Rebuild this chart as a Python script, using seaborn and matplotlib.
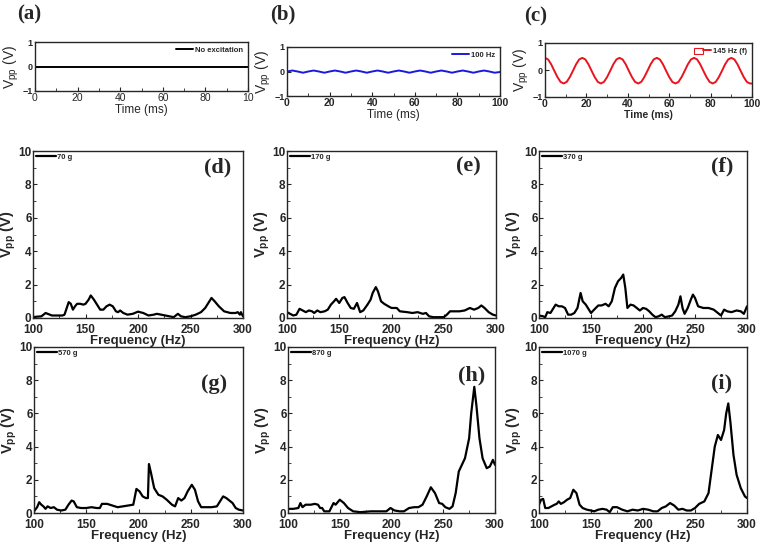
import numpy as np
import pandas as pd
import matplotlib
matplotlib.use('Agg')
import matplotlib.pyplot as plt
import seaborn as sns
from matplotlib.patches import Rectangle
from matplotlib.lines import Line2D
from matplotlib.legend_handler import HandlerTuple

# ---------------- dados ----------------
# (a) sem excitacao
t_a = [0, 25, 50, 75, 100]
v_a = [0, 0, 0, 0, 0]

# (b) 100 Hz
t_b = [0, 2.5, 5, 7.5, 10, 12.5, 15, 17.5, 20, 22.5, 25, 27.5, 30, 32.5, 35, 37.5, 40,
       42.5, 45, 47.5, 50, 52.5, 55, 57.5, 60, 62.5, 65, 67.5, 70, 72.5, 75, 77.5, 80,
       82.5, 85, 87.5, 90, 92.5, 95, 97.5, 100]
v_b = [0.0, 0.04, 0.0, -0.05, 0.0, 0.04, 0.0, -0.05, 0.0, 0.04, 0.0, -0.05, 0.0, 0.04,
       0.0, -0.05, 0.0, 0.04, 0.0, -0.05, 0.0, 0.04, 0.0, -0.05, 0.0, 0.04, 0.0, -0.05,
       0.0, 0.04, 0.0, -0.05, 0.0, 0.04, 0.0, -0.05, 0.0, 0.04, 0.0, -0.05, -0.02]

# (c) 145 Hz (f)
t_c = [i * 1.5 for i in range(67)] + [100]
v_c = [0.45, 0.39, 0.21, -0.03, -0.26, -0.44, -0.50, -0.44, -0.26, -0.03, 0.21, 0.39,
       0.45, 0.39, 0.21, -0.03, -0.26, -0.44, -0.50, -0.44, -0.26, -0.03, 0.21, 0.39,
       0.45, 0.39, 0.21, -0.03, -0.26, -0.44, -0.50, -0.44, -0.26, -0.03, 0.21, 0.39,
       0.45, 0.39, 0.21, -0.03, -0.26, -0.44, -0.50, -0.44, -0.26, -0.03, 0.21, 0.39,
       0.45, 0.39, 0.21, -0.03, -0.26, -0.44, -0.50, -0.44, -0.26, -0.03, 0.21, 0.39,
       0.45, 0.39, 0.21, -0.03, -0.26, -0.44, -0.50, -0.50]

# espectros (Frequencia, Vpp)
f_d = [100, 104, 108, 112, 118, 128, 130, 134, 136, 138, 140, 142, 145, 148, 150, 153,
       155, 158, 161, 164, 167, 170, 173, 176, 179, 181, 183, 186, 190, 195, 200, 205,
       210, 215, 218, 222, 226, 230, 234, 238, 241, 245, 250, 255, 260, 264, 267, 270,
       273, 277, 282, 288, 293, 295, 297, 298, 300]
v_d = [0.05, 0.08, 0.1, 0.3, 0.15, 0.15, 0.2, 0.95, 0.85, 0.5, 0.7, 0.85, 0.85, 0.8,
       0.85, 1.1, 1.35, 1.1, 0.8, 0.5, 0.5, 0.7, 0.8, 0.7, 0.4, 0.35, 0.45, 0.3, 0.2, 0.25,
       0.38, 0.3, 0.15, 0.2, 0.25, 0.2, 0.15, 0.1, 0.05, 0.25, 0.1, 0.05, 0.1, 0.2, 0.35,
       0.6, 0.9, 1.2, 1.0, 0.7, 0.4, 0.3, 0.3, 0.35, 0.2, 0.35, 0.1]

f_e = [100, 103, 106, 109, 112, 115, 118, 121, 124, 126, 129, 132, 136, 139, 142, 145,
       147, 150, 153, 155, 158, 161, 164, 167, 170, 173, 177, 180, 182, 185, 187, 190,
       193, 197, 200, 205, 208, 215, 220, 225, 230, 233, 236, 240, 245, 250, 253, 256,
       265, 270, 275, 279, 283, 286, 289, 293, 297, 300]
v_e = [0.35, 0.25, 0.15, 0.2, 0.55, 0.45, 0.35, 0.45, 0.4, 0.3, 0.45, 0.35, 0.4, 0.5,
       0.8, 1.0, 1.15, 0.9, 1.2, 1.25, 0.9, 0.6, 0.55, 0.9, 0.35, 0.45, 0.8, 1.1, 1.5,
       1.85, 1.6, 1.0, 0.85, 0.7, 0.6, 0.6, 0.4, 0.35, 0.3, 0.35, 0.25, 0.3, 0.1, 0.05,
       0.05, 0.05, 0.2, 0.4, 0.4, 0.45, 0.6, 0.5, 0.6, 0.75, 0.6, 0.35, 0.2, 0.15]

f_f = [100, 104, 106, 108, 111, 113, 116, 119, 122, 125, 128, 131, 134, 137, 140, 142,
       145, 148, 150, 153, 157, 160, 164, 167, 170, 173, 176, 179, 181, 183, 185, 188,
       191, 194, 197, 200, 203, 206, 209, 212, 215, 218, 221, 225, 228, 231, 234, 236,
       238, 240, 243, 246, 248, 250, 253, 258, 263, 268, 272, 275, 278, 281, 285, 290,
       294, 297, 300]
v_f = [0.15, 0.1, 0.05, 0.35, 0.3, 0.5, 0.8, 0.7, 0.7, 0.6, 0.2, 0.2, 0.3, 0.6, 1.5,
       1.0, 0.8, 0.5, 0.3, 0.5, 0.75, 0.75, 0.85, 0.7, 1.0, 1.8, 2.2, 2.4, 2.6, 1.8, 0.6,
       0.8, 0.75, 0.6, 0.45, 0.6, 0.55, 0.4, 0.2, 0.05, 0.1, 0.2, 0.05, 0.1, 0.15, 0.4,
       0.8, 1.3, 0.6, 0.25, 0.6, 1.1, 1.4, 1.2, 0.7, 0.6, 0.6, 0.5, 0.3, 0.15, 0.5, 0.4,
       0.35, 0.45, 0.4, 0.25, 0.7]

f_g = [100, 103, 105, 107, 109, 111, 113, 116, 119, 122, 126, 130, 133, 136, 138, 141,
       145, 150, 155, 160, 163, 165, 170, 175, 180, 185, 190, 195, 198, 201, 204, 207,
       209, 210, 212, 215, 219, 223, 227, 232, 235, 238, 241, 244, 247, 251, 254, 257,
       260, 265, 270, 275, 278, 281, 284, 287, 290, 293, 296, 300]
v_g = [0.1, 0.35, 0.65, 0.5, 0.4, 0.25, 0.4, 0.3, 0.35, 0.2, 0.15, 0.2, 0.5, 0.75, 0.7,
       0.35, 0.3, 0.3, 0.35, 0.3, 0.3, 0.55, 0.55, 0.45, 0.35, 0.4, 0.45, 0.5, 1.45, 1.3,
       1.0, 0.9, 0.9, 2.95, 2.4, 1.5, 1.1, 1.0, 0.8, 0.5, 0.4, 0.9, 0.75, 0.9, 1.3, 1.7,
       1.4, 0.7, 0.35, 0.35, 0.35, 0.4, 0.7, 1.0, 0.9, 0.75, 0.6, 0.3, 0.2, 0.15]

f_h = [100, 105, 110, 112, 114, 117, 122, 126, 129, 131, 133, 135, 140, 144, 146, 150,
       154, 158, 163, 170, 180, 190, 195, 199, 203, 208, 212, 217, 222, 226, 230, 234,
       238, 242, 246, 249, 252, 256, 259, 262, 265, 268, 271, 275, 277, 280, 282, 285,
       288, 292, 295, 298, 300]
v_h = [0.25, 0.25, 0.3, 0.6, 0.35, 0.5, 0.5, 0.55, 0.5, 0.3, 0.3, 0.1, 0.1, 0.6, 0.5,
       0.8, 0.6, 0.3, 0.1, 0.05, 0.1, 0.1, 0.1, 0.3, 0.15, 0.1, 0.1, 0.3, 0.35, 0.35, 0.5,
       1.0, 1.55, 1.2, 0.6, 0.55, 0.35, 0.25, 0.4, 1.2, 2.5, 2.9, 3.3, 4.5, 6.0, 7.6, 6.5,
       4.5, 3.3, 2.7, 2.8, 3.2, 2.9]

f_i = [100, 102, 104, 106, 109, 112, 115, 117, 119, 121, 124, 127, 130, 133, 136, 139,
       142, 146, 150, 153, 157, 161, 165, 168, 171, 175, 180, 185, 190, 195, 200, 205,
       210, 214, 218, 222, 226, 230, 234, 238, 242, 246, 250, 254, 259, 263, 266, 269,
       272, 275, 278, 280, 282, 284, 287, 290, 294, 298, 300]
v_i = [0.5, 0.8, 0.85, 0.3, 0.3, 0.4, 0.5, 0.55, 0.7, 0.55, 0.65, 0.8, 0.9, 1.4, 1.2,
       0.5, 0.3, 0.2, 0.15, 0.1, 0.2, 0.25, 0.2, 0.05, 0.35, 0.35, 0.2, 0.1, 0.2, 0.15,
       0.25, 0.2, 0.1, 0.1, 0.3, 0.4, 0.6, 0.45, 0.2, 0.25, 0.15, 0.15, 0.3, 0.55, 0.7,
       1.2, 2.6, 4.0, 4.7, 4.4, 5.0, 6.0, 6.6, 5.5, 3.5, 2.3, 1.5, 1.0, 0.9]

massas = ['70 g', '170 g', '370 g', '570 g', '870 g', '1070 g']
letras = ['(d)', '(e)', '(f)', '(g)', '(h)', '(i)']
espectros = [(f_d, v_d), (f_e, v_e), (f_f, v_f), (f_g, v_g), (f_h, v_h), (f_i, v_i)]

# ---------------- estilo ----------------
sns.set_theme(style="ticks")
plt.rcParams['font.family'] = ['Liberation Sans', 'DejaVu Sans']
plt.rcParams['mathtext.fontset'] = 'custom'
plt.rcParams['mathtext.rm'] = 'Liberation Sans'
plt.rcParams['mathtext.bf'] = 'Liberation Sans:bold'
plt.rcParams['xtick.direction'] = 'in'
plt.rcParams['ytick.direction'] = 'in'
plt.rcParams['axes.linewidth'] = 1.0

W, H = 760, 544
fig = plt.figure(figsize=(W / 100, H / 100), dpi=100)


def eixo(x0, y0, x1, y1):
    # retangulo em pixels (topo-esquerda)
    return fig.add_axes([x0 / W, 1 - y1 / H, (x1 - x0) / W, (y1 - y0) / H])


def painel_tempo(ax, t, v, cor, negrito):
    sns.lineplot(x=t, y=v, ax=ax, color=cor, lw=1.4, legend=False)
    ax.set_xlim(0, 100)
    ax.set_ylim(-1, 1)
    ax.set_yticks([-1, 0, 1])
    ax.set_xticks([0, 20, 40, 60, 80, 100])
    ax.set_xticks([10, 30, 50, 70, 90], minor=True)
    ax.tick_params(which='major', length=3, width=0.8, pad=1.5)
    ax.tick_params(which='minor', length=2, width=0.6)
    peso = 'bold' if negrito else 'normal'
    for lab in ax.get_yticklabels():
        lab.set_fontsize(6.5)
        lab.set_fontweight('bold')
    for lab in ax.get_xticklabels():
        lab.set_fontsize(7.5)
        lab.set_fontweight(peso)
    ax.set_xlabel('Time (ms)', fontsize=8.5 if not negrito else 7.5, fontweight=peso, labelpad=1)
    ax.set_ylabel(r'V$_{\mathrm{pp}}$ (V)', fontsize=10, labelpad=1)


ax_a = eixo(35, 42, 248, 91)
painel_tempo(ax_a, t_a, v_a, 'black', False)
ax_a.set_xticklabels(['0', '20', '40', '60', '80', '10'])
for lab in ax_a.get_xticklabels():
    lab.set_fontsize(7.5)
ax_a.legend(handles=[Line2D([], [], color='black', lw=1.4)], labels=['No excitation'],
            loc='upper right', frameon=False, handlelength=2.2,
            borderaxespad=0.2, handletextpad=0.3, prop={'weight': 'bold', 'size': 5.5})

ax_b = eixo(287, 47, 500, 96)
painel_tempo(ax_b, t_b, v_b, '#1a1adc', False)
for lab in ax_b.get_xticklabels():
    lab.set_fontweight('bold')
ax_b.legend(handles=[Line2D([], [], color='#1a1adc', lw=1.4)], labels=['100 Hz'],
            loc='upper right', frameon=False, handlelength=2.2,
            borderaxespad=0.2, handletextpad=0.3, prop={'weight': 'bold', 'size': 5.5})

ax_c = eixo(545, 43, 752, 97)
painel_tempo(ax_c, t_c, v_c, '#e8141e', True)
caixa = Rectangle((0, 0), 1, 1, facecolor='white', edgecolor='#e8141e', lw=0.8)
linha = Line2D([], [], color='#e8141e', lw=1.4)
ax_c.legend(handles=[(caixa, linha)], labels=['145 Hz (f)'],
            handler_map={tuple: HandlerTuple(ndivide=None, pad=0)},
            loc='upper right', frameon=False, handlelength=2.2, handleheight=0.9,
            borderaxespad=0.2, handletextpad=0.3, prop={'weight': 'bold', 'size': 5.5})

for txt, (x, y) in zip(['(a)', '(b)', '(c)'], [(29, 14), (283, 14), (536, 16)]):
    fig.text(x / W, 1 - y / H, txt, fontsize=15, fontweight='bold',
             family='Liberation Serif', ha='center', va='center')

# ---------------- espectros ----------------
caixas = [(33, 151, 243, 318), (287, 151, 496, 318), (539, 151, 747, 318),
          (34, 347, 243, 513), (288, 347, 495, 513), (539, 347, 747, 513)]
pos_letra = [(0.88, 0.90), (0.87, 0.91), (0.88, 0.91), (0.86, 0.78), (0.885, 0.83), (0.88, 0.78)]

for (f, v), m, le, cx, pl in zip(espectros, massas, letras, caixas, pos_letra):
    ax = eixo(*cx)
    df = pd.DataFrame({'Frequency': f, 'Vpp': v})
    sns.lineplot(data=df, x='Frequency', y='Vpp', ax=ax, color='black', lw=1.6, label=m)
    ax.set_xlim(100, 300)
    ax.set_ylim(0, 10)
    ax.set_xticks([100, 150, 200, 250, 300])
    ax.set_xticks([125, 175, 225, 275], minor=True)
    ax.set_yticks([0, 2, 4, 6, 8, 10])
    ax.set_yticks([1, 3, 5, 7, 9], minor=True)
    ax.tick_params(which='major', length=3, width=0.8, pad=1, labelsize=8.5)
    ax.tick_params(axis='x', which='major', pad=4.5)
    ax.tick_params(which='minor', length=2, width=0.6)
    for lab in ax.get_xticklabels() + ax.get_yticklabels():
        lab.set_fontweight('bold')
    ax.set_xlabel('Frequency (Hz)', fontsize=9.5, fontweight='bold', labelpad=-1)
    ax.set_ylabel(r'$\mathbf{V_{pp}}$ (V)', fontsize=10.5, fontweight='bold', labelpad=0)
    ax.legend(loc='upper left', frameon=False, handlelength=2.6, borderaxespad=0.05,
              borderpad=0.3, handletextpad=0.2, prop={'weight': 'bold', 'size': 5.5})
    ax.text(pl[0], pl[1], le, transform=ax.transAxes, fontsize=16, fontweight='bold',
            family='Liberation Serif', ha='center', va='center')

fig.savefig('out.png', dpi=100)
